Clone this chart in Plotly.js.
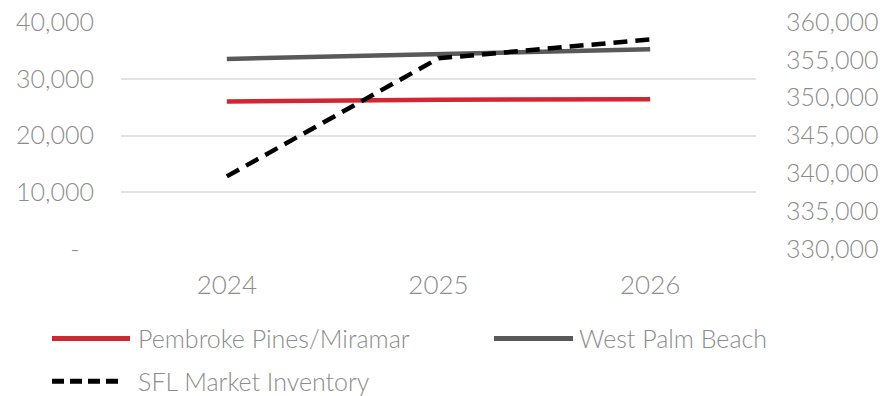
<!DOCTYPE html>
<html><head><meta charset="utf-8">
<script src="https://cdn.plot.ly/plotly-3.0.1.min.js"></script>
<style>html,body{margin:0;padding:0;background:#fff}#c{width:884px;height:396px}</style>
</head><body><div id="c"></div>
<script>
const years = ['2024','2025','2026'];
const pembroke = [26000, 26300, 26400];
const westPalm = [33500, 34400, 35200];
const sflInventory = [339600, 355200, 357700];
const names = ['Pembroke Pines/Miramar','West Palm Beach','SFL Market Inventory'];
const colors = ['#d32632','#595959','#000000'];
const leftTicks = [0, 10000, 20000, 30000, 40000];
const leftTickText = ['-\u2007', '10,000', '20,000', '30,000', '40,000'];

const fam = 'Lato, "Open Sans", sans-serif';
const font = {family: fam, size: 25, color: '#8c8c8c', weight: 300};

const traces = [
  {x: years, y: pembroke, name: names[0], type: 'scatter', mode: 'lines', line: {color: colors[0], width: 4.5}, yaxis: 'y'},
  {x: years, y: westPalm, name: names[1], type: 'scatter', mode: 'lines', line: {color: colors[1], width: 4.5}, yaxis: 'y'},
  {x: years, y: sflInventory, name: names[2], type: 'scatter', mode: 'lines', line: {color: colors[2], width: 4.5, dash: '14px,8px'}, yaxis: 'y2'}
];

const leg = [
  {x0: 52, x1: 130, y: 339, tx: 136, i: 0},
  {x0: 494, x1: 573, y: 339, tx: 577, i: 1},
  {x0: 52, x1: 122, y: 382, tx: 136, i: 2}
];
const W = 884, H = 396;
const shapes = leg.map(l => ({
  type: 'line', xref: 'paper', yref: 'paper',
  x0: (l.x0 - 121) / 635, x1: (l.x1 - 121) / 635,
  y0: (249.3 - l.y) / 227.6, y1: (249.3 - l.y) / 227.6,
  line: {color: colors[l.i], width: 5, dash: l.i === 2 ? '12px,6px' : 'solid'}
}));
const annotations = leg.map(l => ({
  xref: 'paper', yref: 'paper', x: (l.tx - 121) / 635, y: (249.3 - l.y) / 227.6,
  xanchor: 'left', yanchor: 'middle', text: names[l.i], showarrow: false,
  font: {family: fam, size: 25, color: '#8c8c8c', weight: 300}
}));

const layout = {
  width: W, height: H,
  margin: {l: 121, r: 128, t: 22, b: 147, pad: 0},
  paper_bgcolor: '#fff', plot_bgcolor: '#fff',
  showlegend: false,
  font: font,
  xaxis: {type: 'category', range: [-0.5, 2.5], showgrid: false, zeroline: false, showline: false, ticks: '', tickfont: {size: 26, color: '#8c8c8c'}, ticklabelstandoff: 18},
  yaxis: {range: [0, 40000], tickvals: leftTicks, ticktext: leftTickText, showgrid: true, gridcolor: '#e3e3e3', gridwidth: 2, zeroline: false, showline: false, ticks: '', ticklabelstandoff: 26, tickfont: {size: 25, color: '#8c8c8c'}},
  yaxis2: {overlaying: 'y', side: 'right', range: [330000, 360000], dtick: 5000, tickformat: ',d', showgrid: false, zeroline: false, showline: false, ticks: '', ticklabelstandoff: 29, tickfont: {size: 25, color: '#8c8c8c'}},
  shapes: shapes,
  annotations: annotations
};
Plotly.newPlot('c', traces, layout, {displayModeBar: false, staticPlot: true});
</script></body></html>
